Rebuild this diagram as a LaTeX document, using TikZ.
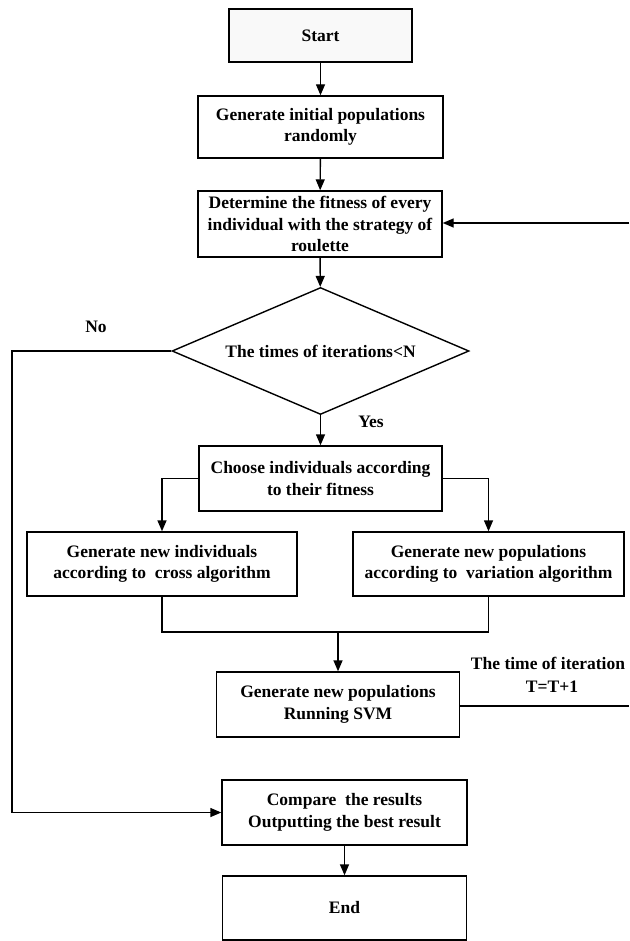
\documentclass[tikz,border=0pt]{standalone}
\usepackage{fontspec}
\setmainfont{Liberation Serif}
\usetikzlibrary{shapes.geometric, arrows.meta}

\begin{document}
\begin{tikzpicture}[x=1pt, y=-1pt, line width=1.4pt,
    font=\fontsize{17.5}{21.5}\selectfont\bfseries,
    box/.style={draw, shape=rectangle, align=center, inner sep=2pt},
    arr/.style={-{Triangle[length=11pt, width=9pt]}}]
    \useasboundingbox (0,0) rectangle (629,941);
    \node(start)[box, fill=gray!5, minimum width=183pt, minimum height=53pt] at (320.5,35.5) {Start};
    \node(init)[box, minimum width=245pt, minimum height=62pt] at (320.5,127) {Generate initial populations\\randomly};
    \node(fit)[box, minimum width=244pt, minimum height=66pt] at (320,224) {Determine the fitness of every\\individual with the strategy of\\roulette};
    \node(cond)[draw, shape=diamond, shape aspect=2.34, inner sep=0pt, minimum width=297pt, minimum height=127pt] at (320.5,351) {The times of iterations<N};
    \node(choose)[box, minimum width=243pt, minimum height=65pt] at (320.5,478.5) {Choose individuals according\\to their fitness};
    \node(cross)[box, minimum width=270pt, minimum height=64pt] at (162,564) {Generate new individuals\\according to\ \ cross algorithm};
    \node(vari)[box, minimum width=271pt, minimum height=64pt] at (488.5,564) {Generate new populations\\according to\ \ variation algorithm};
    \node(svm)[box, minimum width=243pt, minimum height=65pt] at (338,704.5) {Generate new populations\\Running SVM};
    \node(cmp)[box, minimum width=245pt, minimum height=65pt] at (344.5,812.5) {Compare\ \ the results\\Outputting the best result};
    \node(fin)[box, minimum width=244pt, minimum height=64pt] at (344.5,908) {End};
    \node(no) at (96,327) {No};
    \node(yes) at (371,422) {Yes};
    \node(iter) at (548,663) {The time of iteration};
    \node(inc) at (552,687) {T=T+1};
    \coordinate(nocorner) at (12,351);
    \coordinate(merge) at (338,632);
    \coordinate(outr) at (629,706);
    \coordinate(inr) at (629,223);
    \draw[arr] (start) -- (init);
    \draw[arr] (init) -- (fit);
    \draw[arr] (fit) -- (cond);
    \draw[arr] (cond) -- (choose);
    \draw[arr] (cond.west) -- (nocorner) |- (cmp.west);
    \draw[arr] (choose.west) -| (cross.north);
    \draw[arr] (choose.east) -| (vari.north);
    \draw (cross.south) |- (merge) -| (vari.south);
    \draw[arr] (merge) -- (svm.north);
    \draw (svm.east |- outr) -- (outr);
    \draw[arr] (inr) -- (fit.east |- inr);
    \draw[arr] (cmp) -- (fin);
\end{tikzpicture}
\end{document}
